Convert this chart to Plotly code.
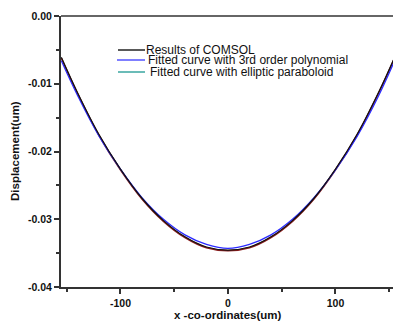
import plotly.graph_objects as go

# ---- data ----
x_um = [-155, -140, -120, -100, -80, -60, -40, -20, 0, 20, 40, 60, 80, 100, 120, 140, 155]
comsol = [-0.0061, -0.0113, -0.0175, -0.0226, -0.0269, -0.0302, -0.0326, -0.0341, -0.03455,
          -0.0341, -0.0326, -0.0302, -0.0269, -0.0226, -0.0175, -0.0113, -0.0061]
poly3 = [-0.0066, -0.0117, -0.0177, -0.0226, -0.0268, -0.0300, -0.0323, -0.0337, -0.0343,
         -0.0337, -0.0323, -0.0300, -0.0268, -0.0227, -0.0178, -0.0118, -0.0066]
ellip = [-0.0062, -0.0114, -0.0176, -0.0227, -0.0270, -0.0303, -0.0327, -0.0342, -0.03465,
         -0.0342, -0.0327, -0.0303, -0.0270, -0.0227, -0.0176, -0.0114, -0.0062]

legend_labels = ["Results of COMSOL", "Fitted curve with 3rd order polynomial",
                 "Fitted curve with elliptic paraboloid"]
x_title = "x -co-ordinates(um)"
y_title = "Displacement(um)"

x_ticks = [-100, 0, 100]
x_ticktext = ["-100", "0", "100"]
x_minor = [-150, -50, 50, 150]
y_ticks = [0.0, -0.01, -0.02, -0.03, -0.04]
y_ticktext = ["0.00", "-0.01", "-0.02", "-0.03", "-0.04"]
y_minor = [-0.005, -0.015, -0.025, -0.035]

W, H = 393, 322
ML, MR, MT, MB = 61, 0, 16, 35
FONT = "Liberation Sans, Arial"

fig = go.Figure()
fig.add_trace(go.Scatter(x=x_um, y=ellip, mode="lines", line=dict(color="#8a1c1c", width=1.6, shape="spline"),
                         name=legend_labels[2], showlegend=False))
fig.add_trace(go.Scatter(x=x_um, y=poly3, mode="lines", line=dict(color="#2a2aff", width=1.3, shape="spline"),
                         name=legend_labels[1], showlegend=False))
fig.add_trace(go.Scatter(x=x_um, y=comsol, mode="lines", line=dict(color="#111111", width=1.2, shape="spline"),
                         name=legend_labels[0], showlegend=False))

pw = W - ML - MR
ph = H - MT - MB


def px(xp):
    return (xp - ML) / pw


def py(yp):
    return (H - MB - yp) / ph


legend_rows = [
    (legend_labels[0], "#222222", 118, 145, 50, 145),
    (legend_labels[1], "#5555ff", 117, 145, 60, 147),
    (legend_labels[2], "#3aa6a0", 118, 145, 72, 149),
]
for label, col, x0, x1, yy, tx in legend_rows:
    fig.add_shape(type="line", xref="paper", yref="paper", x0=px(x0), x1=px(x1), y0=py(yy), y1=py(yy),
                  line=dict(color=col, width=1.5))
    fig.add_annotation(xref="paper", yref="paper", x=px(tx), y=py(yy), text=label, showarrow=False,
                       xanchor="left", yanchor="middle", borderpad=0,
                       font=dict(size=12, color="#111111", family=FONT))

# axis titles
fig.add_annotation(xref="paper", yref="paper", x=px(228), y=py(315), text=x_title, showarrow=False,
                   xanchor="center", yanchor="middle",
                   font=dict(size=11.5, color="#111111", family=FONT, weight="bold"))
fig.add_annotation(xref="paper", yref="paper", x=px(15), y=py(151), text=y_title, showarrow=False,
                   textangle=-90, xanchor="center", yanchor="middle",
                   font=dict(size=11.5, color="#111111", family=FONT, weight="bold"))

# top frame line
fig.add_shape(type="line", xref="paper", yref="paper", x0=0, x1=1, y0=1, y1=1,
              line=dict(color="#333333", width=1.5))

fig.update_layout(
    width=W, height=H,
    margin=dict(l=ML, r=MR, t=MT, b=MB, autoexpand=False),
    paper_bgcolor="white", plot_bgcolor="white",
    font=dict(family=FONT, color="#111111"),
    showlegend=False,
)
fig.update_xaxes(
    range=[-155.3, 153.5], showgrid=False, zeroline=False, automargin=False,
    showline=True, linecolor="#333333", linewidth=2,
    ticks="outside", ticklen=5, tickwidth=1.5, tickcolor="#333333",
    tickvals=x_ticks, ticktext=x_ticktext,
    tickfont=dict(size=10.5, weight="bold"),
    minor=dict(tickvals=x_minor, ticks="outside", ticklen=3, tickwidth=1.5, tickcolor="#333333"),
)
fig.update_yaxes(
    range=[-0.04, 0.0], showgrid=False, zeroline=False, automargin=False,
    showline=True, linecolor="#333333", linewidth=2,
    ticks="outside", ticklen=5, tickwidth=1.5, tickcolor="#333333",
    tickvals=y_ticks, ticktext=y_ticktext,
    tickfont=dict(size=10.5, weight="bold"),
    minor=dict(tickvals=y_minor, ticks="outside", ticklen=3, tickwidth=1.5, tickcolor="#333333"),
)

fig.write_html("out.html", config={"displayModeBar": False},
               post_script="document.body.style.margin='0';document.body.style.overflow='hidden';")
